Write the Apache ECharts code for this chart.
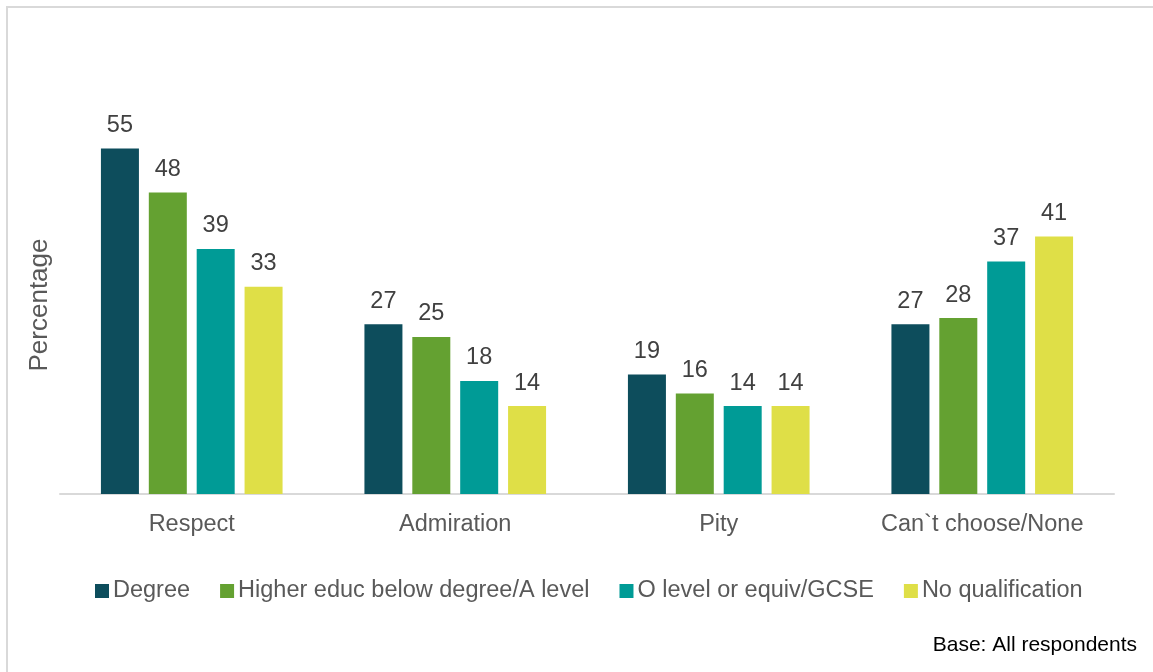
<!DOCTYPE html>
<html><head><meta charset="utf-8">
<script src="https://cdn.jsdelivr.net/npm/echarts@6/dist/echarts.min.js"></script>
<style>html,body{margin:0;padding:0;background:#fff}#c{width:1153px;height:672px}</style>
</head><body><div id="c"></div>
<script>
const categories = ["Respect", "Admiration", "Pity", "Can`t choose/None"];
const seriesNames = ["Degree", "Higher educ below degree/A level", "O level or equiv/GCSE", "No qualification"];
const degree = [55, 27, 19, 27];
const higherEduc = [48, 25, 16, 28];
const oLevel = [39, 18, 14, 37];
const noQual = [33, 14, 14, 41];
const colors = ["#0d4d5c", "#64a131", "#009b96", "#dfdf47"];
const values = [degree, higherEduc, oLevel, noQual];

const chart = echarts.init(document.getElementById('c'), null, {renderer: 'canvas'});
const FONT = 'Liberation Sans, Arial, sans-serif';
chart.setOption({
  animation: false,
  color: colors,
  textStyle: {fontFamily: FONT},
  grid: {left: 60, right: 39, top: 117, bottom: 178, containLabel: false},
  xAxis: {
    type: 'category', data: categories,
    axisLine: {lineStyle: {color: '#d9d9d9', width: 2}},
    axisTick: {show: false},
    axisLabel: {color: '#595959', fontSize: 23.5, margin: 19, fontFamily: FONT}
  },
  yAxis: {
    type: 'value', min: 0, max: 60, show: false,
    splitLine: {show: false}
  },
  legend: {
    top: 574, left: 90, itemWidth: 14, itemHeight: 14, itemGap: 30,
    icon: 'rect',
    textStyle: {color: '#595959', fontSize: 23.5, fontFamily: FONT, padding: [0, 0, 0, -1]},
    data: seriesNames
  },
  graphic: [
    {type: 'rect', shape: {x: 7, y: 7, width: 1200, height: 700}, style: {fill: 'none', stroke: '#d9d9d9', lineWidth: 2}, silent: true},
    {type: 'text', x: 40, y: 305, rotation: Math.PI / 2, style: {text: 'Percentage', fill: '#595959', font: '26px ' + FONT, align: 'center', verticalAlign: 'middle'}},
    {type: 'text', x: 1137, y: 645, style: {text: 'Base: All respondents', fill: '#000', font: '21px ' + FONT, align: 'right', verticalAlign: 'middle'}}
  ],
  series: values.map((v, i) => ({
    name: seriesNames[i], type: 'bar', data: v,
    barWidth: 38, barGap: '26%',
    label: {show: true, position: 'top', distance: 11, color: '#404040', fontSize: 23.5, fontFamily: FONT}
  }))
});
</script></body></html>
